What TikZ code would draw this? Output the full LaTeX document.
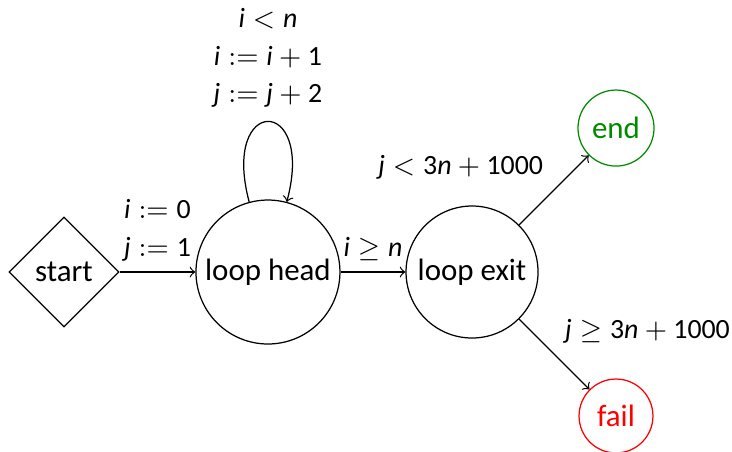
\documentclass[tikz,border=0pt]{standalone}
\usepackage{mathspec}
\setmainfont{Carlito}
\setmathsfont(Digits,Latin){Carlito}
\usetikzlibrary{shapes.geometric}
\definecolor{okgreen}{HTML}{008A00}
\definecolor{badred}{HTML}{FF0000}

\begin{document}
\begin{tikzpicture}[
  state/.style={draw, circle, inner sep=0pt},
  entry/.style={draw, diamond, minimum width=1.25cm, minimum height=1.25cm, inner sep=0pt},
  guard/.style={align=center, font=\fontsize{9}{12.2}\selectfont},
]
\useasboundingbox (0,0) rectangle (8.318,5.125);
\node[entry] (start) at (0.727,2.034) {start};
\node[state, minimum size=1.636cm] (head) at (3.045,2.034) {loop head};
\node[state, minimum size=1.5cm] (exit) at (5.364,2.034) {loop exit};
\node[state, minimum size=0.864cm, draw=okgreen, text=okgreen] (end) at (7.0,3.67) {end};
\node[state, minimum size=0.84cm, draw=badred, text=badred] (fail) at (7.0,0.398) {fail};
% transitions
\draw[->] (start) -- node[guard, above] {$i := 0$\\$j := 1$} (head);
\draw[->] (head.105) .. controls +(105:1.26) and +(75:1.26) .. node[guard, above=1pt] {$i < n$\\$i := i + 1$\\$j := j + 2$} (head.75);
\draw[->] (head) -- node[guard, above] {$i \geq n$} (exit);
\draw[->] (exit) -- node[guard, above left] {$j < 3n + 1000$} (end);
\draw[->] (exit) -- node[guard, above right] {$j \geq 3n + 1000$} (fail);
\end{tikzpicture}
\end{document}
